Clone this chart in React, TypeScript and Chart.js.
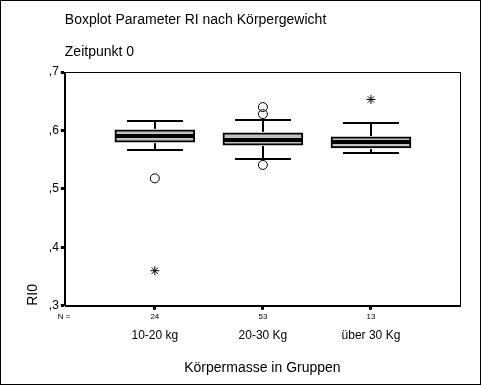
import { useEffect, useRef } from 'react';
import { Chart, registerables } from 'chart.js';

Chart.register(...registerables);

const FONT = '"Liberation Sans", Arial, Helvetica, sans-serif';

const categories = ['10-20 kg', '20-30 Kg', 'über 30 Kg'];
const groupSizes = [24, 53, 13];
const whiskerLow = [0.567, 0.551, 0.562];
const q1 = [0.58, 0.575, 0.57];
const median = [0.591, 0.584, 0.581];
const q3 = [0.601, 0.596, 0.589];
const whiskerHigh = [0.617, 0.618, 0.613];
const outlierGroup = [1, 2, 2, 2];
const outlierValue = [0.518, 0.64, 0.628, 0.541];
const extremeGroup = [1, 3];
const extremeValue = [0.36, 0.653];
const yTicks = [0.3, 0.4, 0.5, 0.6, 0.7];

const chartTitle = 'Boxplot Parameter RI nach Körpergewicht';
const chartSubtitle = 'Zeitpunkt 0';
const xTitle = 'Körpermasse in Gruppen';
const yTitle = 'RI0';

const boxPlugin = {
  id: 'boxExtras',
  afterDatasetsDraw(chart: any) {
    const { ctx, scales } = chart;
    const x = scales.x;
    const y = scales.y;
    ctx.save();
    ctx.strokeStyle = '#000';
    categories.forEach((_, i) => {
      const cx = Math.round(x.getPixelForValue(i + 1));
      const capHalf = 28;
      const yq1 = y.getPixelForValue(q1[i]);
      const yq3 = y.getPixelForValue(q3[i]);
      const ylo = Math.round(y.getPixelForValue(whiskerLow[i]));
      const yhi = Math.round(y.getPixelForValue(whiskerHigh[i]));
      ctx.lineWidth = 2;
      ctx.beginPath();
      ctx.moveTo(cx, yq3 - 1);
      ctx.lineTo(cx, yhi);
      ctx.moveTo(cx, yq1 + 1);
      ctx.lineTo(cx, ylo);
      ctx.stroke();
      ctx.beginPath();
      ctx.moveTo(cx - capHalf, yhi);
      ctx.lineTo(cx + capHalf, yhi);
      ctx.moveTo(cx - capHalf, ylo);
      ctx.lineTo(cx + capHalf, ylo);
      ctx.stroke();
      const ym = Math.round(y.getPixelForValue(median[i]));
      ctx.lineWidth = 4;
      ctx.beginPath();
      ctx.moveTo(cx - 40, ym);
      ctx.lineTo(cx + 40, ym);
      ctx.stroke();
    });
    ctx.restore();
  },
  afterDraw(chart: any) {
    const { ctx, chartArea, scales, width, height } = chart;
    ctx.save();
    ctx.strokeStyle = '#000';
    ctx.lineWidth = 1;
    ctx.strokeRect(
      Math.round(chartArea.left) + 0.5,
      Math.round(chartArea.top) + 0.5,
      Math.round(chartArea.right - chartArea.left),
      Math.round(chartArea.bottom - chartArea.top)
    );
    ctx.strokeRect(0.5, 0.5, width - 1, height - 1);
    ctx.fillStyle = '#000';
    ctx.textBaseline = 'middle';
    ctx.textAlign = 'left';
    ctx.font = '14px ' + FONT;
    ctx.fillText(chartTitle, chartArea.left, 20);
    ctx.fillText(chartSubtitle, chartArea.left, 52);
    ctx.font = '8px ' + FONT;
    const ny = chartArea.bottom + 11;
    ctx.textAlign = 'left';
    ctx.fillText('N =', chartArea.left - 7, ny);
    ctx.textAlign = 'center';
    groupSizes.forEach((n, i) => {
      ctx.fillText(String(n), scales.x.getPixelForValue(i + 1), ny);
    });
    ctx.restore();
  },
};

export default function App() {
  const ref = useRef<HTMLCanvasElement>(null);
  useEffect(() => {
    if (!ref.current) return;
    const chart = new Chart(ref.current, {
      type: 'bar',
      data: {
        datasets: [
          {
            type: 'bar',
            data: categories.map((_, i) => ({ x: i + 1, y: [q1[i], q3[i]] })) as any,
            backgroundColor: '#c0c0c0',
            borderColor: '#000',
            borderWidth: 2,
            borderSkipped: false,
            barThickness: 80,
            grouped: false,
          } as any,
          {
            type: 'scatter',
            data: outlierGroup.map((g, i) => ({ x: g, y: outlierValue[i] })),
            pointStyle: 'circle',
            radius: 4.5,
            borderColor: '#000',
            borderWidth: 1,
            backgroundColor: 'rgba(255,255,255,0)',
          } as any,
          {
            type: 'scatter',
            data: extremeGroup.map((g, i) => ({ x: g, y: extremeValue[i] })),
            pointStyle: 'star',
            radius: 4.5,
            borderColor: '#000',
            borderWidth: 1,
            backgroundColor: '#000',
          } as any,
        ],
      },
      options: {
        animation: false,
        responsive: false,
        maintainAspectRatio: false,
        events: [],
        layout: { padding: { top: 72, right: 21, left: 25, bottom: 8 } },
        plugins: { legend: { display: false }, tooltip: { enabled: false }, title: { display: false } },
        scales: {
          x: {
            type: 'linear',
            min: 0.167,
            max: 3.824,
            offset: false,
            afterBuildTicks: (s: any) => {
              s.ticks = categories.map((_, i) => ({ value: i + 1 }));
            },
            ticks: {
              callback: (v: any) => categories[Math.round(v) - 1] ?? '',
              padding: 19,
              color: '#000',
              font: { size: 12, family: FONT },
              maxRotation: 0,
              autoSkip: false,
            },
            grid: { drawOnChartArea: false, offset: false, tickLength: 4, tickWidth: 3, color: '#000' },
            border: { color: '#000', width: 1 },
            title: {
              display: true,
              text: xTitle,
              color: '#000',
              font: { size: 14, family: FONT },
              padding: { top: -2, bottom: 0 },
            },
          },
          y: {
            min: 0.3,
            max: 0.7,
            afterBuildTicks: (s: any) => {
              s.ticks = yTicks.map((v) => ({ value: v }));
            },
            ticks: {
              callback: (v: any) => ',' + Math.round(Number(v) * 10),
              padding: 2,
              color: '#000',
              font: { size: 12, family: FONT },
            },
            grid: { drawOnChartArea: false, offset: false, tickLength: 4, tickWidth: 3, color: '#000' },
            border: { color: '#000', width: 1 },
            title: {
              display: true,
              text: yTitle,
              align: 'start',
              color: '#000',
              font: { size: 14, family: FONT },
              padding: { top: 0, bottom: 5 },
            },
          },
        },
      },
      plugins: [boxPlugin],
    } as any);
    return () => chart.destroy();
  }, []);
  return (
    <div style={{ position: 'absolute', left: 0, top: 0, width: 481, height: 385 }}>
      <canvas ref={ref} width={481} height={385} style={{ display: 'block', width: 481, height: 385 }} />
    </div>
  );
}
